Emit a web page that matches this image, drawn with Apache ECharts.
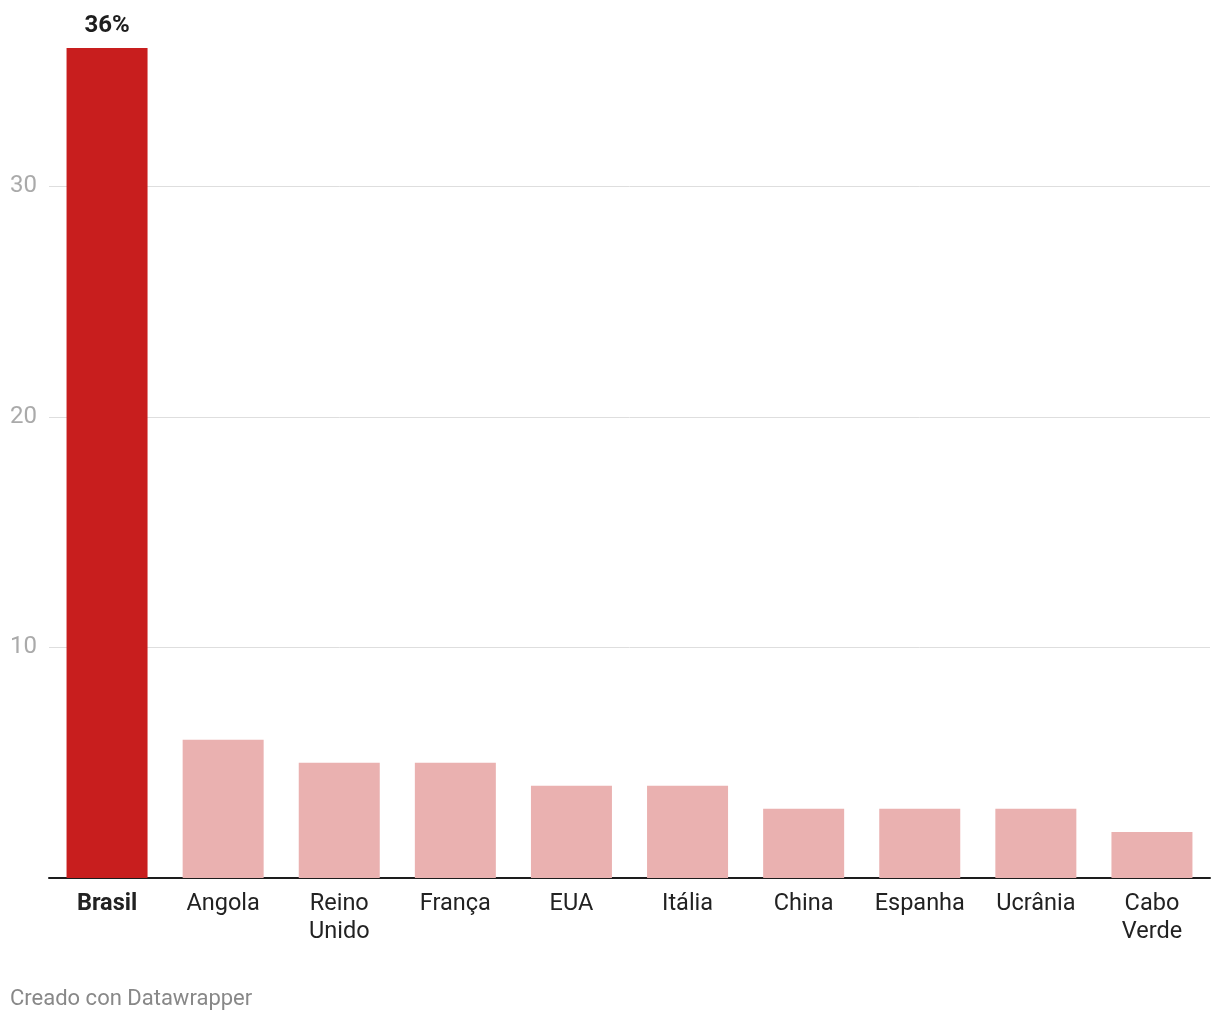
<!DOCTYPE html>
<html>
<head>
<meta charset="utf-8">
<script src="https://cdn.jsdelivr.net/npm/echarts@6/dist/echarts.min.js"></script>
<style>
html,body{margin:0;padding:0;background:#fff;}
#c{width:1220px;height:1020px;}
</style>
</head>
<body>
<div id="c"></div>
<script>
const categories = ['Brasil','Angola','Reino\nUnido','França','EUA','Itália','China','Espanha','Ucrânia','Cabo\nVerde'];
const values = [36, 6, 5, 5, 4, 4, 3, 3, 3, 2];
const highlight = 'Brasil';
const yTicks = [0, 10, 20, 30];

const chart = echarts.init(document.getElementById('c'), null, {renderer:'canvas'});
const FONT = 'Roboto, "Noto Sans", sans-serif';

chart.setOption({
  backgroundColor:'#fff',
  animation:false,
  grid:{left:49, right:10, top:48, bottom:142, containLabel:false},
  xAxis:{
    type:'category',
    data:categories.map(c => c === highlight ? {value:c, textStyle:{fontWeight:'bold'}} : c),
    axisLine:{show:true, lineStyle:{color:'#1d1d1d', width:2}},
    axisTick:{show:false},
    axisLabel:{color:'#222', fontSize:23.5, fontFamily:FONT, lineHeight:28, margin:12, interval:0}
  },
  yAxis:{
    type:'value', min:0, max:values[0], interval:10,
    axisLine:{show:false}, axisTick:{show:false},
    splitLine:{show:true, showMaxLine:false, showMinLine:false, lineStyle:{color:'#dedede', width:1}},
    axisLabel:{color:'#aaaaaa', fontSize:24, fontFamily:FONT, align:'left', margin:39,
      padding:[3,0,0,0],
      showMaxLabel:false, showMinLabel:false,
      formatter: v => yTicks.indexOf(v) > 0 ? String(v) : ''}
  },
  series:[{
    type:'bar',
    barWidth:81,
    data:values.map((v,i) => categories[i] === highlight ? {
      value:v,
      itemStyle:{color:'#c81e1e'},
      label:{show:true, position:'top', distance:10, formatter:'{c}%', color:'#1d1d1d', fontWeight:'bold', fontSize:24, fontFamily:FONT}
    } : {value:v, itemStyle:{color:'#eab1b0'}})
  }],
  graphic:[{
    type:'text', left:10, top:988,
    style:{text:'Creado con Datawrapper', fill:'#888', fontSize:22, fontFamily:FONT}
  }]
});
</script>
</body>
</html>
